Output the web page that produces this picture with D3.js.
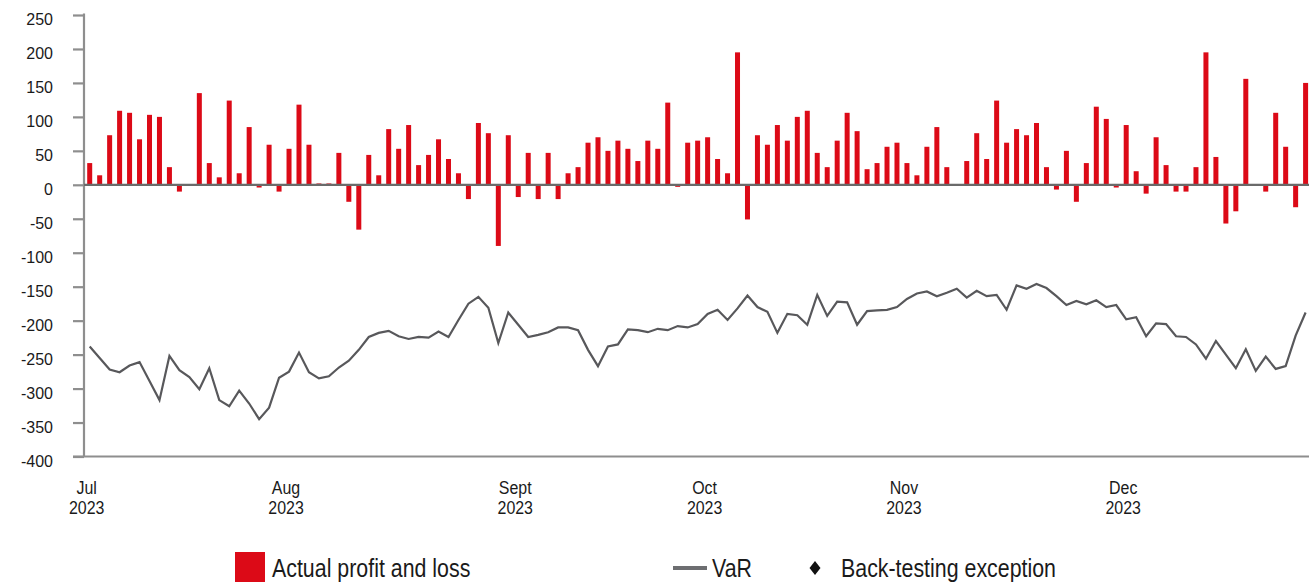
<!DOCTYPE html>
<html>
<head>
<meta charset="utf-8">
<script src="https://cdn.jsdelivr.net/npm/d3@7"></script>
<style>
  html, body { margin: 0; padding: 0; background: #fff; }
  svg { display: block; }
  .ylab { font-family: "Liberation Sans", Arial, sans-serif; font-size: 16px; fill: #1a1a1a; }
  .xlab { font-family: "Liberation Sans", Arial, sans-serif; font-size: 19px; fill: #1a1a1a; }
  .leg { font-family: "Liberation Sans", Arial, sans-serif; font-size: 25px; fill: #1a1a1a; }
</style>
</head>
<body>
<svg id="chart" width="1309" height="582"></svg>
<script>
// ---- data (trading-day index 0..122, Jul–Dec 2023) ----
const pnl = [
  32, 14, 73, 109, 106, 67, 103, 100, 26, -10,
  null, 135, 32, 11, 124, 17, 85, -4, 59, -10,
  53, 118, 59, 2, 2, 47, -25, -66, 44, 14,
  82, 53, 88, 29, 44, 67, 38, 17, -21, 91,
  76, -90, 73, -18, 47, -21, 47, -21, 17, 26,
  62, 70, 50, 65, 53, 35, 65, 53, 121, -3,
  62, 65, 70, 38, 17, 195, -51, 73, 59, 88,
  65, 100, 109, 47, 26, 65, 106, 79, 23, 32,
  56, 62, 32, 14, 56, 85, 26, null, 35, 76,
  38, 124, 62, 82, 73, 91, 26, -7, 50, -25,
  32, 115, 97, -4, 88, 20, -13, 70, 29, -10,
  -10, 26, 195, 41, -57, -39, 156, null, -10, 106,
  56, -33, 150
];
const varSeries = [
  -238, -255, -272, -276, -266, -261, -289, -317, -252, -273,
  -283, -301, -270, -317, -326, -303, -322, -345, -328, -284,
  -275, -247, -276, -285, -282, -269, -259, -243, -224, -218,
  -215, -223, -227, -224, -225, -216, -224, -199, -175, -165,
  -181, -233, -188, -206, -224, -221, -217, -210, -210, -214,
  -243, -267, -238, -235, -213, -214, -217, -212, -214, -208,
  -210, -205, -190, -184, -199, -182, -163, -180, -187, -218,
  -190, -192, -206, -162, -193, -172, -173, -206, -186, -185,
  -184, -180, -168, -160, -157, -164, -159, -153, -166, -156,
  -164, -162, -184, -148, -153, -146, -152, -164, -177, -171,
  -176, -170, -180, -177, -198, -195, -223, -204, -205, -223,
  -224, -235, -256, -230, -250, -270, -242, -274, -253, -271,
  -267, -222, -188
];
const monthLabels = ["Jul", "Aug", "Sept", "Oct", "Nov", "Dec"];
const yearLabel = "2023";
const monthTickIdx = [0, 20, 43, 62, 82, 104];
const yTicks = [250, 200, 150, 100, 50, 0, -50, -100, -150, -200, -250, -300, -350, -400];
const legendLabels = ["Actual profit and loss", "VaR", "Back-testing exception"];

// ---- layout ----
const svg = d3.select("#chart");
const x = d3.scaleLinear().domain([0, pnl.length - 1]).range([89.7, 1305.6]);
const y = d3.scaleLinear().domain([-400, 250]).range([456.5, 15]);
const axisX = 84;
const red = "#dc0a17";
const lineGrey = "#58585b";
const condense = 0.84;
const legCondense = 0.855;

// y axis
const yAxis = d3.axisLeft(y).tickValues(yTicks).tickSize(11).tickPadding(20).tickFormat(d3.format("d"));
const gy = svg.append("g").attr("transform", `translate(${axisX},0)`).call(yAxis);
gy.select(".domain").attr("stroke", "#8e8e8e").attr("stroke-width", 2.2)
  .attr("d", `M0,${y(250) - 1.5}V${y(-400)}`);
gy.selectAll(".tick line").attr("stroke", "#8e8e8e").attr("stroke-width", 2.2);
gy.selectAll(".tick text").attr("class", "ylab").attr("dy", "0.62em")
  .text(d => String(d));

// bottom axis line
svg.append("line")
  .attr("x1", axisX - 11).attr("x2", 1309)
  .attr("y1", y(-400)).attr("y2", y(-400))
  .attr("stroke", "#8e8e8e").attr("stroke-width", 2.2);

// bars
const bw = 5;
svg.append("g").selectAll("rect")
  .data(pnl.map((v, i) => ({ v, i })).filter(d => d.v !== null))
  .join("rect")
  .attr("x", d => x(d.i) - bw / 2)
  .attr("width", bw)
  .attr("y", d => y(Math.max(0, d.v)))
  .attr("height", d => Math.abs(y(d.v) - y(0)))
  .attr("fill", red);

// zero line
svg.append("line")
  .attr("x1", axisX).attr("x2", 1309)
  .attr("y1", y(0)).attr("y2", y(0))
  .attr("stroke", "#6a6a6a").attr("stroke-width", 2.2);

// VaR line
const line = d3.line().x((d, i) => x(i)).y(d => y(d));
svg.append("path")
  .datum(varSeries)
  .attr("d", line)
  .attr("fill", "none")
  .attr("stroke", lineGrey)
  .attr("stroke-width", 2.2)
  .attr("stroke-linejoin", "miter");

// x labels (condensed look)
monthTickIdx.forEach((idx, k) => {
  const g = svg.append("g").attr("transform", `translate(${x(idx) - 3},0) scale(${condense},1)`);
  const t = g.append("text").attr("class", "xlab").attr("text-anchor", "middle");
  t.append("tspan").attr("x", 0).attr("y", 494).text(monthLabels[k]);
  t.append("tspan").attr("x", 0).attr("y", 514).text(yearLabel);
});

// legend
const lg = svg.append("g");
lg.append("rect").attr("x", 235).attr("y", 552).attr("width", 30).attr("height", 32).attr("fill", red);
function legText(xPos, s) {
  lg.append("g").attr("transform", `translate(${xPos},577) scale(${legCondense},1)`)
    .append("text").attr("class", "leg").attr("x", 0).attr("y", 0).text(s);
}
legText(272, legendLabels[0]);
lg.append("line").attr("x1", 673).attr("x2", 707).attr("y1", 568).attr("y2", 568)
  .attr("stroke", "#6d6e71").attr("stroke-width", 4);
legText(712, legendLabels[1]);
lg.append("path").attr("d", "M0,-7L5.5,0L0,7L-5.5,0Z")
  .attr("transform", "translate(815,568)")
  .attr("fill", "#111");
legText(841, legendLabels[2]);
</script>
</body>
</html>
